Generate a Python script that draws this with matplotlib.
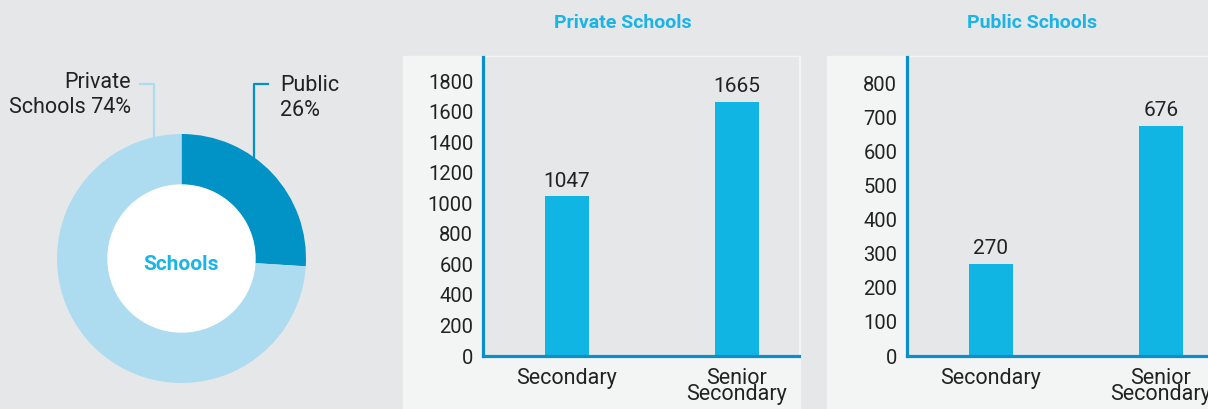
import matplotlib.pyplot as plt
from matplotlib.patches import Rectangle, Circle
from matplotlib.lines import Line2D

plt.rcParams['font.family'] = ['Roboto', 'DejaVu Sans']

# data
share_labels = ['Public\n26%', 'Private\nSchools 74%']
share_values = [26, 74]
levels = ['Secondary', 'Senior\nSecondary']
private_counts = [1047, 1665]
public_counts = [270, 676]

BG = '#e6e7e9'
PANEL = '#f3f4f4'
BAR = '#10b5e3'
AXIS = '#0b8fc9'
TITLE = '#1ab4e6'
DARK = '#0192c6'
LIGHT = '#addcf1'
TXT = '#222222'

W, H = 1208, 409
fig = plt.figure(figsize=(W / 100, H / 100), dpi=100, facecolor=BG)


def box(x0, y0, x1, y1):
    # pixel box (top-left origin) -> figure fraction rect
    return [x0 / W, 1 - y1 / H, (x1 - x0) / W, (y1 - y0) / H]


def fx(x):
    return x / W


def fy(y):
    return 1 - y / H


# ---- donut ----
ax = fig.add_axes(box(31.5, 108.5, 331.5, 408.5))
ax.pie(share_values, colors=[DARK, LIGHT], startangle=90, counterclock=False,
       radius=1.245, wedgeprops=dict(width=0.51, linewidth=0))
ax.add_patch(Circle((0, 0), 0.735, color='white', zorder=3))
ax.text(0, -0.06, 'Schools', ha='center', va='center', fontsize=15,
        fontweight='bold', color=TITLE, zorder=4)
ax.set_xlim(-1.5, 1.5)
ax.set_ylim(-1.5, 1.5)
ax.set_aspect('equal')
ax.axis('off')

# leader lines + labels
fig.add_artist(Line2D([fx(140), fx(154), fx(154)], [fy(84), fy(84), fy(137)],
                      color=LIGHT, lw=1.6))
fig.add_artist(Line2D([fx(268), fx(254), fx(254)], [fy(84), fy(84), fy(157)],
                      color=DARK, lw=1.6))
fig.text(fx(131), fy(95), share_labels[1], ha='right', va='center',
         fontsize=15.5, color=TXT, linespacing=1.2)
fig.text(fx(280), fy(98), share_labels[0], ha='left', va='center',
         fontsize=15.5, color=TXT, linespacing=1.2)


def bar_panel(px0, px1, ax_left, ax_right, xmax, ymax, ticks, counts,
              title, title_x):
    fig.add_artist(Rectangle((fx(px0), 0), fx(px1) - fx(px0), fy(56),
                             transform=fig.transFigure, color=PANEL, zorder=0))
    a = fig.add_axes(box(ax_left, 57, ax_right, 356))
    a.set_facecolor(BG)
    bars = a.bar([0, 1], counts, width=0.26, color=BAR, zorder=2)
    a.set_xlim(-0.494, xmax)
    a.set_ylim(0, ymax)
    a.set_yticks(ticks)
    a.set_yticklabels([str(t) for t in ticks], fontsize=14.5, color=TXT)
    a.tick_params(axis='y', length=0, pad=7)
    a.set_xticks([])
    for s in ['top', 'right']:
        a.spines[s].set_visible(False)
    for s in ['left', 'bottom']:
        a.spines[s].set_color(AXIS)
        a.spines[s].set_linewidth(2.3)
    a.bar_label(bars, labels=[str(c) for c in counts], padding=4,
                fontsize=15, color=TXT)
    for i, lab in enumerate(levels):
        a.text(i, -0.04, lab, transform=a.get_xaxis_transform(), ha='center',
               va='top', fontsize=15.5, color=TXT, linespacing=0.68,
               clip_on=False)
    fig.text(fx(title_x), fy(23), title, ha='center', va='center',
             fontsize=14, fontweight='bold', color=TITLE)
    return a


bar_panel(403, 800, 483, 799, 1.365, 1960,
          [0, 200, 400, 600, 800, 1000, 1200, 1400, 1600, 1800],
          private_counts, 'Private Schools', 623)
bar_panel(827, 1208, 907, 1208, 1.277, 877,
          [0, 100, 200, 300, 400, 500, 600, 700, 800],
          public_counts, 'Public Schools', 1032)

fig.savefig('out.png', dpi=100, facecolor=BG)
